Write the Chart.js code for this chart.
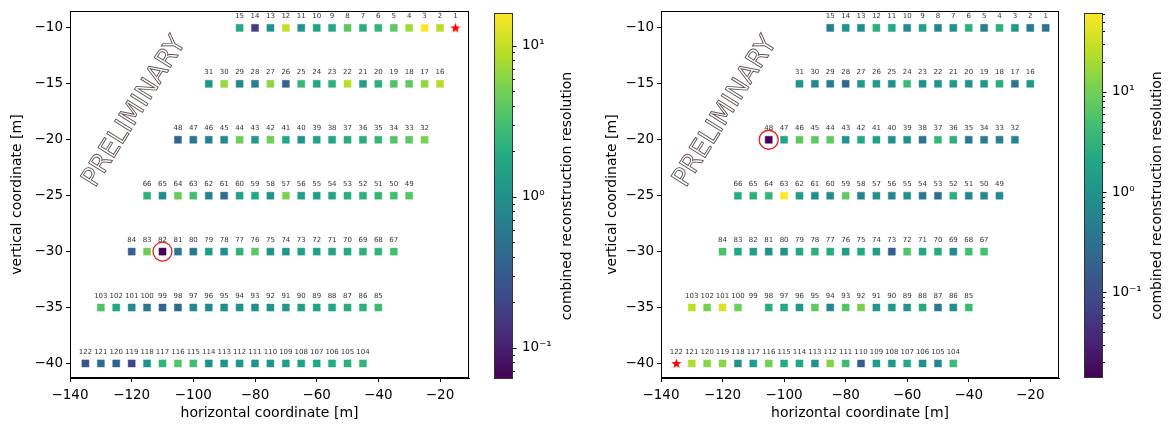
<!DOCTYPE html>
<html>
<head>
<meta charset="utf-8">
<script src="https://cdn.jsdelivr.net/npm/chart.js@4.4.0/dist/chart.umd.min.js"></script>
<style>
  body { margin: 0; background: #fff; width: 1168px; height: 425px; position: relative; overflow: hidden; }
  .box { position: absolute; top: 0; height: 425px; }
</style>
</head>
<body>
<div class="box" style="left:0;width:480px"><canvas id="mainL"></canvas></div>
<div class="box" style="left:480px;width:100px"><canvas id="cbarL"></canvas></div>
<div class="box" style="left:595px;width:475px"><canvas id="mainR"></canvas></div>
<div class="box" style="left:1070px;width:98px"><canvas id="cbarR"></canvas></div>
<script>
// station positions, station number = index + 1
const stationX = [
  -15, -20, -25, -30, -35, -40, -45, -50, -55, -60, -65, -70, -75, -80, -85,
  -20, -25, -30, -35, -40, -45, -50, -55, -60, -65, -70, -75, -80, -85, -90, -95,
  -25, -30, -35, -40, -45, -50, -55, -60, -65, -70, -75, -80, -85, -90, -95, -100, -105,
  -30, -35, -40, -45, -50, -55, -60, -65, -70, -75, -80, -85, -90, -95, -100, -105, -110, -115,
  -35, -40, -45, -50, -55, -60, -65, -70, -75, -80, -85, -90, -95, -100, -105, -110, -115, -120,
  -40, -45, -50, -55, -60, -65, -70, -75, -80, -85, -90, -95, -100, -105, -110, -115, -120, -125, -130,
  -45, -50, -55, -60, -65, -70, -75, -80, -85, -90, -95, -100, -105, -110, -115, -120, -125, -130, -135
];
const stationY = [
  -10, -10, -10, -10, -10, -10, -10, -10, -10, -10, -10, -10, -10, -10, -10,
  -15, -15, -15, -15, -15, -15, -15, -15, -15, -15, -15, -15, -15, -15, -15, -15,
  -20, -20, -20, -20, -20, -20, -20, -20, -20, -20, -20, -20, -20, -20, -20, -20, -20,
  -25, -25, -25, -25, -25, -25, -25, -25, -25, -25, -25, -25, -25, -25, -25, -25, -25, -25,
  -30, -30, -30, -30, -30, -30, -30, -30, -30, -30, -30, -30, -30, -30, -30, -30, -30, -30,
  -35, -35, -35, -35, -35, -35, -35, -35, -35, -35, -35, -35, -35, -35, -35, -35, -35, -35, -35,
  -40, -40, -40, -40, -40, -40, -40, -40, -40, -40, -40, -40, -40, -40, -40, -40, -40, -40, -40
];

// combined reconstruction resolution per station (null = reference / no value)
const resLeft = [
  null, 9, 16.4, 7.5, 4, 2.3, 2, 4, 1.6, 1.5, 1.0, 10, 1.0, 0.17, 1.75,
  9, 6.5, 4.2, 3.4, 2.1, 1.4, 9, 2.1, 1.6, 2.5, 0.36, 6.5, 0.65, 0.85, 7, 1.1,
  5.4, 4, 3.6, 2.5, 2, 2, 1.6, 1.4, 1.0, 1.75, 4.8, 1.3, 4.8, 0.85, 0.7, 0.57, 0.36,
  3.6, 3, 2.5, 2.1, 2, 1.5, 1.35, 1.4, 5.4, 1.1, 1.75, 1.5, 0.45, 0.7, 3, 4.5, 0.9, 2.2,
  3, 2.3, 2.1, 1.75, 1.5, 1.4, 1.4, 1.15, 1.0, 4, 2.3, 0.9, 1.3, 0.57, 0.57, 0.062, 4.8, 0.33,
  2.7, 2.1, 2, 1.75, 1.6, 1.4, 1.2, 1.1, 1.0, 1.0, 0.9, 0.85, 0.85, 0.45, 0.38, 0.57, 0.85, 1.75, 3.4,
  2.3, 2.1, 1.85, 1.75, 1.5, 1.4, 1.15, 1.1, 1.1, 1.0, 1.0, 3, 3.6, 2.3, 1.0, 0.2, 0.38, 0.43, 0.25
];
const resRight = [
  0.34, 0.45, 1.2, 2.9, 0.5, 2.9, 1.0, 0.65, 1.6, 0.75, 2.1, 2.6, 0.75, 1.0, 0.45,
  1.1, 0.34, 2.6, 1.1, 1.0, 1.3, 1.0, 1.0, 4, 0.92, 1.3, 1.3, 0.22, 0.45, 0.65, 1.0,
  0.65, 0.5, 0.45, 0.4, 2.9, 3.5, 0.34, 0.92, 0.92, 1.6, 2.1, 0.92, 7.5, 7.5, 7.5, 1.75, 0.014,
  0.75, 0.65, 0.65, 2.6, 0.3, 0.4, 0.92, 0.65, 1.0, 0.55, 7.5, 0.75, 0.8, 1.3, 60.8, 3.2, 2.9, 2.4,
  4.9, 4.9, 0.75, 2.4, 2.1, 6, 0.17, 1.6, 2.1, 1.5, 2.4, 2.7, 2.1, 1.0, 0.92, 1.5, 2.1, 5.5,
  4, 0.8, 0.45, 2.4, 1.0, 1.3, 1.1, 11, 6, 0.65, 7.5, 1.3, 2.1, 2.6, null, 10, 38, 11, 26,
  4, 0.65, 0.92, 2.1, 1.3, 1.3, 0.17, 4, 13, 0.92, 2.1, 2.4, 10, 1.3, 1.0, 14, 14, 22, null
];

const refLeft = 1, refRight = 122;       // red star
const circledLeft = 82, circledRight = 48;

const xMin = -140, xMax = -10.6;
const yMin = -41.3, yMax = -8.5;

const VIRIDIS = ['#440154', '#482475', '#414487', '#355f8d', '#2a788e', '#21918c',
                 '#22a884', '#44bf70', '#7ad151', '#bddf26', '#fde725'];

Chart.defaults.font.family = '"DejaVu Sans", sans-serif';
Chart.defaults.color = '#000';
Chart.defaults.animation = false;

function hexRgb(h) {
  return [parseInt(h.slice(1, 3), 16), parseInt(h.slice(3, 5), 16), parseInt(h.slice(5, 7), 16)];
}
function viridis(t, a) {
  t = Math.max(0, Math.min(1, t));
  const f = t * (VIRIDIS.length - 1);
  const i = Math.min(Math.floor(f), VIRIDIS.length - 2);
  const c0 = hexRgb(VIRIDIS[i]), c1 = hexRgb(VIRIDIS[i + 1]);
  const k = f - i;
  const c = c0.map((v, j) => Math.round(v + (c1[j] - v) * k));
  return `rgba(${c[0]},${c[1]},${c[2]},${a === undefined ? 1 : a})`;
}
function fmt(v) { return (v < 0 ? '\u2212' : '') + Math.abs(v); }
const SUP = { '-': '\u207b', '0': '\u2070', '1': '\u00b9', '2': '\u00b2', '3': '\u00b3' };

// small filled red star used as a point style
const starImg = document.createElement('canvas');
starImg.width = 11; starImg.height = 11;
(function () {
  const c = starImg.getContext('2d');
  c.fillStyle = '#ff0000';
  c.beginPath();
  for (let k = 0; k < 10; k++) {
    const r = k % 2 === 0 ? 5.3 : 2.2;
    const a = -Math.PI / 2 + k * Math.PI / 5;
    const px = 5.5 + r * Math.cos(a), py = 5.8 + r * Math.sin(a);
    if (k === 0) c.moveTo(px, py); else c.lineTo(px, py);
  }
  c.closePath();
  c.fill();
})();

function makePanel(id, values, refSt, circSt, yWidth, padTop, padRight) {
  const vals = values.filter(v => v != null);
  const vmin = Math.min(...vals), vmax = Math.max(...vals);
  const lmin = Math.log10(vmin), lspan = Math.log10(vmax) - lmin;
  const pts = [], fills = [], edges = [];
  stationX.forEach((x, i) => {
    if (values[i] == null) return;
    const t = (Math.log10(values[i]) - lmin) / lspan;
    pts.push({ x: x, y: stationY[i] });
    fills.push(viridis(t));
    edges.push(viridis(t, 0.45));
  });

  const decor = {
    id: 'decor',
    beforeDatasetsDraw(chart) {
      const { ctx, scales: { x, y } } = chart;
      ctx.save();
      ctx.translate(x.getPixelForValue(-119), y.getPixelForValue(-17.5));
      ctx.rotate(-58 * Math.PI / 180);
      ctx.font = '26px "DejaVu Sans"';
      ctx.textAlign = 'center';
      ctx.textBaseline = 'middle';
      ctx.fillStyle = '#ffffff';
      ctx.fillText('PRELIMINARY', 0, 0);
      ctx.strokeStyle = '#5e5050';
      ctx.lineWidth = 0.9;
      ctx.strokeText('PRELIMINARY', 0, 0);
      ctx.restore();
    },
    afterDatasetsDraw(chart) {
      const { ctx, scales: { x, y }, chartArea: a } = chart;
      ctx.save();
      ctx.font = '7px "DejaVu Sans"';
      ctx.fillStyle = '#333';
      ctx.textAlign = 'center';
      ctx.textBaseline = 'middle';
      stationX.forEach((sx, i) => {
        ctx.fillText(String(i + 1), x.getPixelForValue(sx), y.getPixelForValue(stationY[i]) - 11.5);
      });
      ctx.strokeStyle = '#000';
      ctx.lineWidth = 1;
      ctx.strokeRect(Math.round(a.left) + 0.5, Math.round(a.top) + 0.5,
                     Math.round(a.right - a.left) - 1, Math.round(a.bottom - a.top) - 1);
      ctx.restore();
    }
  };

  new Chart(document.getElementById(id), {
    type: 'scatter',
    data: {
      datasets: [
        { data: pts, pointStyle: 'rect', pointRadius: 5, backgroundColor: fills, borderColor: edges, borderWidth: 1 },
        { data: [{ x: stationX[refSt - 1], y: stationY[refSt - 1] }], pointStyle: starImg, pointRadius: 5 },
        { data: [{ x: stationX[circSt - 1], y: stationY[circSt - 1] }], pointStyle: 'circle', pointRadius: 9.5,
          backgroundColor: 'rgba(0,0,0,0)', borderColor: '#e8201c', borderWidth: 1.3 }
      ]
    },
    options: {
      responsive: true,
      maintainAspectRatio: false,
      events: [],
      layout: { padding: { top: padTop, right: padRight, left: 0, bottom: 0 } },
      plugins: { legend: { display: false }, tooltip: { enabled: false } },
      scales: {
        x: {
          type: 'linear', min: xMin, max: xMax,
          afterFit(s) { s.height = 47; },
          ticks: { stepSize: 20, includeBounds: false, callback: fmt, font: { size: 13.5 }, padding: 5 },
          grid: { drawOnChartArea: false, drawTicks: true, tickLength: 4, color: '#000' },
          border: { display: true, color: '#000' },
          title: { display: true, text: 'horizontal coordinate [m]', font: { size: 14 }, padding: { top: 0, bottom: 3 } }
        },
        y: {
          type: 'linear', min: yMin, max: yMax,
          afterFit(s) { s.width = yWidth; },
          ticks: { stepSize: 5, includeBounds: false, callback: fmt, font: { size: 13.5 }, padding: 3 },
          grid: { drawOnChartArea: false, drawTicks: true, tickLength: 4, color: '#000' },
          border: { display: true, color: '#000' },
          title: { display: true, text: 'vertical coordinate [m]', font: { size: 14 }, padding: { top: 9, bottom: 0 } }
        }
      }
    },
    plugins: [decor]
  });
  return { vmin, vmax };
}

function makeColorbar(id, vmin, vmax, axisWidth, padBottom) {
  const bar = {
    id: 'bar',
    beforeDraw(chart) {
      const { ctx, chartArea: a, scales: { y } } = chart;
      const g = ctx.createLinearGradient(0, a.bottom, 0, a.top);
      for (let k = 0; k <= 40; k++) g.addColorStop(k / 40, viridis(k / 40));
      ctx.save();
      ctx.fillStyle = g;
      ctx.fillRect(a.left, a.top, a.right - a.left, a.bottom - a.top);
      ctx.strokeStyle = '#333';
      ctx.lineWidth = 1;
      ctx.strokeRect(Math.round(a.left) + 0.5, Math.round(a.top) + 0.5,
                     Math.round(a.right - a.left) - 1, Math.round(a.bottom - a.top) - 1);
      // major / minor tick marks
      ctx.strokeStyle = '#000';
      for (let e = Math.floor(Math.log10(vmin)); e <= Math.ceil(Math.log10(vmax)); e++) {
        for (let m = 1; m <= 9; m++) {
          const v = m * Math.pow(10, e);
          if (v < vmin || v > vmax) continue;
          const py = Math.round(y.getPixelForValue(v)) + 0.5;
          ctx.beginPath();
          ctx.moveTo(a.right, py);
          ctx.lineTo(a.right + (m === 1 ? 3.5 : 2), py);
          ctx.stroke();
        }
      }
      ctx.font = '14px "DejaVu Sans"';
      ctx.fillStyle = '#000';
      ctx.textAlign = 'center';
      ctx.textBaseline = 'middle';
      ctx.translate(87, (a.top + a.bottom) / 2);
      ctx.rotate(-Math.PI / 2);
      ctx.fillText('combined reconstruction resolution', 0, 0);
      ctx.restore();
    }
  };
  new Chart(document.getElementById(id), {
    type: 'scatter',
    data: { datasets: [] },
    options: {
      responsive: true,
      maintainAspectRatio: false,
      events: [],
      layout: { padding: { top: 7, bottom: padBottom, left: 14, right: 0 } },
      plugins: { legend: { display: false }, tooltip: { enabled: false } },
      scales: {
        x: { display: false },
        y: {
          type: 'logarithmic', position: 'right', min: vmin, max: vmax,
          afterFit(s) { s.width = axisWidth; },
          grid: { display: false, drawTicks: true, tickLength: 4 },
          border: { display: false },
          ticks: {
            autoSkip: false, font: { size: 13.5 }, padding: 5,
            callback(v) {
              const e = Math.log10(v);
              if (Math.abs(e - Math.round(e)) > 1e-6) return '';
              return '10' + String(Math.round(e)).split('').map(c => SUP[c]).join('');
            }
          }
        }
      }
    },
    plugins: [bar]
  });
}

const left = makePanel('mainL', resLeft, refLeft, circledLeft, 70, 7, 11);
const right = makePanel('mainR', resRight, refRight, circledRight, 66, 6, 10);
makeColorbar('cbarL', left.vmin, left.vmax, 67, 46);
makeColorbar('cbarR', right.vmin, right.vmax, 65, 47);
</script>
</body>
</html>
